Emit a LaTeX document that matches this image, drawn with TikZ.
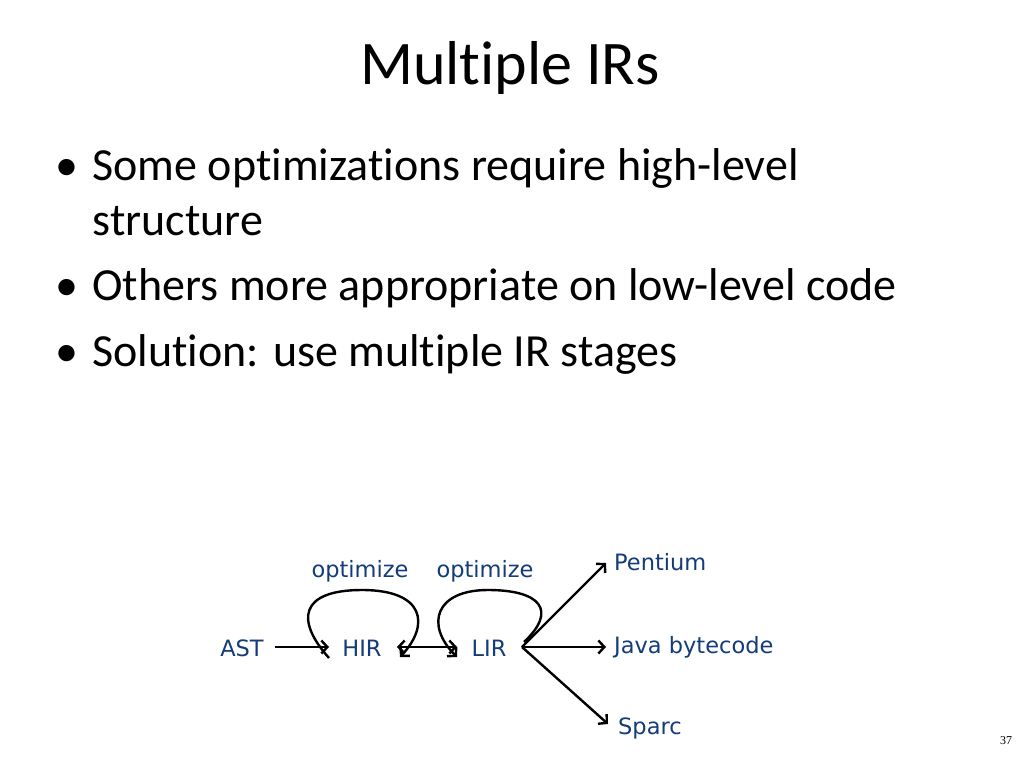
\documentclass[tikz,border=0pt]{standalone}
\usepackage{fontspec}
\setmainfont[Ligatures=NoCommon]{Carlito}
\newfontfamily\dg{DejaVu Sans}
\newfontfamily\tm{Liberation Serif}
\definecolor{dblue}{RGB}{20,60,120}
\usetikzlibrary{arrows.meta}
\begin{document}
\begin{tikzpicture}[x=1pt,y=-1pt,
  lbl/.style={font=\dg\fontsize{22.5}{26}\selectfont,text=dblue,inner sep=1pt},
  arr/.style={->,line width=2.4pt,>={Straight Barb[length=6pt,width=13pt]}}]
\useasboundingbox (0,0) rectangle (1024,768);
\node (title) at (510,68) {\fontsize{62}{70}\selectfont Multiple IRs};
\begin{scope}[font=\fontsize{46}{54}\selectfont]
\node[anchor=base west] (b1) at (52,180) {•};
\node[anchor=base west] (t1) at (89,180) {Some optimizations require high-level};
\node[anchor=base west] (t1b) at (89,235) {structure};
\node[anchor=base west] (b2) at (52,300) {•};
\node[anchor=base west] (t2) at (89,300) {Others more appropriate on low-level code};
\node[anchor=base west] (b3) at (52,366) {•};
\node[anchor=base west] (t3) at (89,366) {Solution: use multiple IR stages};
\end{scope}
\node[lbl] (ast) at (242,648) {AST};
\node[lbl] (hir) at (362,648) {HIR};
\node[lbl] (lir) at (489,648) {LIR};
\node[lbl,anchor=west] (java) at (613,647) {Java bytecode};
\node[lbl,anchor=west] (pent) at (613,562) {Pentium};
\node[lbl,anchor=west] (sparc) at (617,728) {Sparc};
\node[lbl] (o1) at (360,571) {optimize};
\node[lbl] (o2) at (485,571) {optimize};
\node[font=\tm\fontsize{12}{14}\selectfont] (pg) at (1006,741) {37};
\coordinate (apex) at (522,647);
\coordinate (astE) at (275,647);
\coordinate (hirW) at (329,647);
\coordinate (hirE) at (397,647);
\coordinate (lirW) at (457,647);
\coordinate (javaW) at (606,647);
\coordinate (pentW) at (606,563);
\coordinate (sparcW) at (608,724);
\draw[arr] (astE) -- (hirW);
\draw[arr,<->] (hirE) -- (lirW);
\draw[arr] (apex) -- (javaW);
\draw[arr] (apex) -- (pentW);
\draw[arr] (apex) -- (sparcW);
\draw[arr] (329,658) .. controls (295,620) and (300,590) .. (362,590) .. controls (425,590) and (430,625) .. (400,657);
\draw[arr] (524,642) .. controls (558,610) and (540,590) .. (488,590) .. controls (435,590) and (425,625) .. (457,657);
\end{tikzpicture}
\end{document}
